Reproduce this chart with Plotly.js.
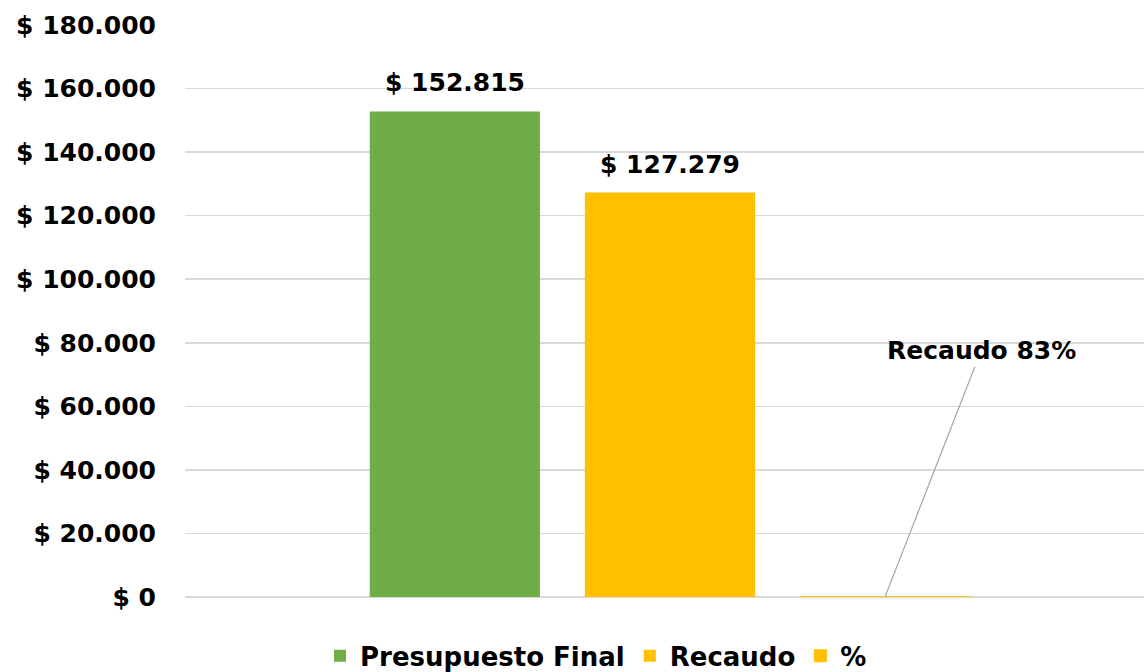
<!DOCTYPE html>
<html><head><meta charset="utf-8">
<script src="https://cdn.plot.ly/plotly-3.0.1.min.js"></script>
<style>html,body{margin:0;padding:0;background:#fff}#chart{width:1144px;height:672px}</style>
</head><body><div id="chart"></div>
<script>
const categories = [""];
const seriesNames = ["Presupuesto Final", "Recaudo", "%"];
const presupuestoFinal = [152815];
const recaudo = [127279];
const porcentaje = [83];
const annotationText = "Recaudo 83%";
const tickValues = [0, 20000, 40000, 60000, 80000, 100000, 120000, 140000, 160000, 180000];
const tickLabels = ["$ 0", "$ 20.000", "$ 40.000", "$ 60.000", "$ 80.000", "$ 100.000", "$ 120.000", "$ 140.000", "$ 160.000", "$ 180.000"];

const FONT = "Century Gothic, 'DejaVu Sans', sans-serif";
const bargap = 0.327;
const bargroupgap = 0.209;
const shift = 0.0057;

const traces = [
  {type: "bar", name: seriesNames[0], x: categories, y: presupuestoFinal, marker: {color: "#70AD47"}},
  {type: "bar", name: seriesNames[1], x: categories, y: recaudo, marker: {color: "#FFC000"}},
  {type: "bar", name: seriesNames[2], x: categories, y: porcentaje,
   marker: {color: "#FFC000", line: {color: "#FFC000", width: 1}}}
];

const slot = (1 - bargap) / 3;
const labelFont = {family: FONT, size: 25, color: "#000", weight: "bold"};
const legendFont = {family: FONT, size: 26, color: "#000", weight: "bold"};
const fmt = v => "$ " + v.toString().replace(/\B(?=(\d{3})+(?!\d))/g, ".");

const dataLabels = [presupuestoFinal, recaudo].map((arr, i) => ({
  x: (i - 1) * slot, xref: "x", y: arr[0], yref: "y",
  text: fmt(arr[0]), showarrow: false, yanchor: "bottom", yshift: 12, font: labelFont
}));

const layout = {
  width: 1144, height: 672,
  margin: {l: 185, r: 0, t: 25, b: 75},
  paper_bgcolor: "#fff", plot_bgcolor: "#fff",
  barmode: "group", bargap: bargap, bargroupgap: bargroupgap,
  font: labelFont,
  xaxis: {type: "category", range: [-0.5 - shift, 0.5 - shift], showticklabels: false, showgrid: false,
          zeroline: false, showline: false, fixedrange: true},
  yaxis: {range: [0, 180000], tickmode: "array", tickvals: tickValues, ticktext: tickLabels,
          showgrid: true, gridcolor: "#D9D9D9", gridwidth: 1.5, zeroline: true, zerolinecolor: "#D9D9D9", zerolinewidth: 1.5,
          showline: false, ticks: "", ticklabelstandoff: 28,
          tickfont: labelFont, automargin: false},
  showlegend: true,
  legend: {orientation: "h", xref: "container", yref: "container", x: 0.521, xanchor: "center", y: 0.024, yanchor: "middle",
           font: legendFont, traceorder: "normal", itemwidth: 30},
  annotations: dataLabels.concat([{
    x: slot, xref: "x", y: porcentaje[0], yref: "y",
    text: annotationText, showarrow: true, arrowhead: 0, arrowwidth: 1.2, arrowcolor: "#A6A6A6",
    ax: 96, ay: -246, standoff: 0, font: labelFont
  }])
};

Plotly.newPlot("chart", traces, layout, {displayModeBar: false, staticPlot: true});
</script></body></html>
